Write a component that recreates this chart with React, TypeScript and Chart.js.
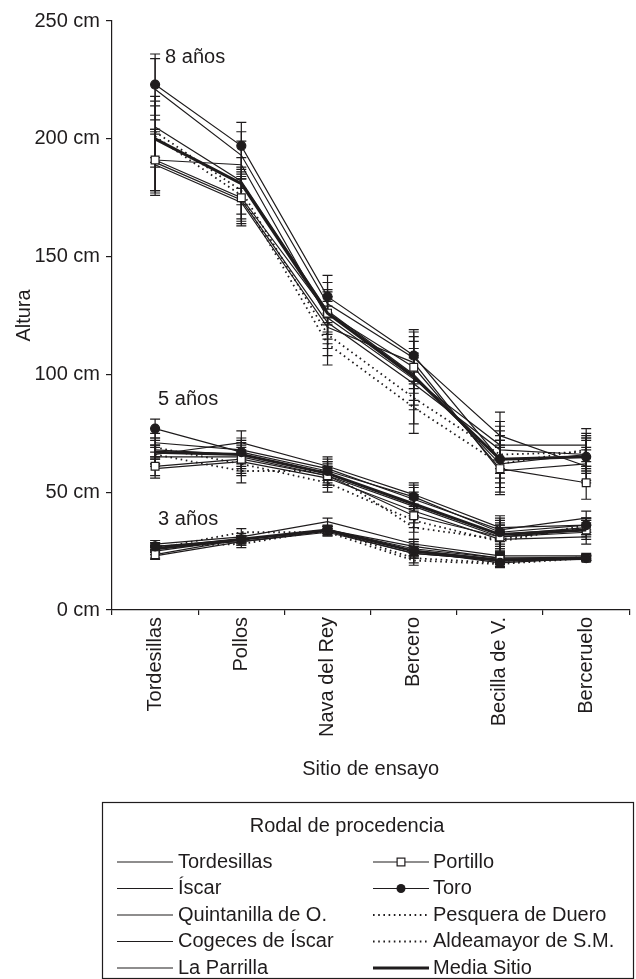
import React, { useEffect, useRef } from "react";
import { Chart, registerables } from "chart.js";
Chart.register(...registerables);

const sites = ["Tordesillas", "Pollos", "Nava del Rey", "Bercero", "Becilla de V.", "Berceruelo"];
const yTickValues = [0, 50, 100, 150, 200, 250];

// 8 años
const tordesillas8 = [221, 193, 130, 107, 74, 61];
const iscar8 = [205, 182, 127, 100, 62, 66];
const quintanilla8 = [191, 189, 124, 98, 70, 70];
const cogeces8 = [190, 174, 122, 96, 68, 66];
const parrilla8 = [189, 173, 120, 105, 59, 62];
const portillo8 = [191, 175, 126, 103, 60, 54];
const toro8 = [223, 197, 133, 108, 64, 65];
const pesquera8 = [203, 178, 117, 90, 66, 67];
const aldeamayor8 = [201, 176, 113, 86, 62, 68];
const media8 = [200, 181, 126, 99, 64, 65];

// 5 años
const tordesillas5 = [71, 68, 60, 47, 34, 39];
const iscar5 = [68, 66, 58, 45, 32, 35];
const quintanilla5 = [66, 71, 61, 49, 35, 36];
const cogeces5 = [65, 65, 57, 44, 31, 33];
const parrilla5 = [60, 63, 56, 42, 30, 31];
const portillo5 = [61, 64, 57, 40, 31, 34];
const toro5 = [77, 67, 59, 48, 33, 36];
const pesquera5 = [66, 59, 59, 35, 30, 35];
const aldeamayor5 = [69, 62, 54, 38, 29, 36];
const media5 = [67, 66, 58, 45, 32, 34];

// 3 años
const tordesillas3 = [28, 31, 37.5, 28, 23, 23];
const iscar3 = [26, 30, 34, 27, 22, 22.5];
const quintanilla3 = [27, 29, 33, 24, 21, 22];
const cogeces3 = [25, 30, 34, 26, 22, 22];
const parrilla3 = [23, 29, 33.5, 24, 21, 21.5];
const portillo3 = [23.5, 30, 34, 25, 21.5, 22];
const toro3 = [27, 30, 34, 25, 20, 22];
const pesquera3 = [26, 33, 33, 21, 19.5, 22];
const aldeamayor3 = [27, 28, 34, 22, 20, 22.5];
const media3 = [26, 30, 34, 25, 21, 22];

// error half-widths per site
const err8 = [13, 10, 9, 11, 10, 7];
const err5 = [4, 5, 4, 5, 5, 3];
const err3 = [1.5, 1.5, 1.5, 2, 1.5, 1];

const ageLabels = ["8 años", "5 años", "3 años"];
const ageLabelValues = [234.5, 89.5, 38.5];

const seriesNames = [
  "Media Sitio", "Toro", "Portillo", "Tordesillas", "Íscar", "Quintanilla de O.",
  "Cogeces de Íscar", "La Parrilla", "Pesquera de Duero", "Aldeamayor de S.M.",
];
const series8 = [media8, toro8, portillo8, tordesillas8, iscar8, quintanilla8, cogeces8, parrilla8, pesquera8, aldeamayor8];
const series5 = [media5, toro5, portillo5, tordesillas5, iscar5, quintanilla5, cogeces5, parrilla5, pesquera5, aldeamayor5];
const series3 = [media3, toro3, portillo3, tordesillas3, iscar3, quintanilla3, cogeces3, parrilla3, pesquera3, aldeamayor3];

const legendCol1 = ["Tordesillas", "Íscar", "Quintanilla de O.", "Cogeces de Íscar", "La Parrilla"];
const legendCol2 = ["Portillo", "Toro", "Pesquera de Duero", "Aldeamayor de S.M.", "Media Sitio"];

const INK = "#1f1c1d";
const FONT = "'Liberation Sans', Arial, Helvetica, sans-serif";

function styleFor(name: string) {
  const s: any = { borderWidth: 1.2, borderDash: [], pointStyle: "circle", pointRadius: 0, pointBackgroundColor: INK };
  if (name === "Media Sitio") s.borderWidth = 3;
  if (name === "Pesquera de Duero" || name === "Aldeamayor de S.M.") { s.borderDash = [1.6, 3.6]; s.borderWidth = 1.8; }
  if (name === "Toro") { s.pointStyle = "circle"; s.pointRadius = 4.5; s.pointBackgroundColor = INK; }
  if (name === "Portillo") { s.pointStyle = "rect"; s.pointRadius = 5.5; s.pointBackgroundColor = "#ffffff"; }
  return s;
}

const errorBarsPlugin = {
  id: "errorBars",
  beforeDatasetsDraw(chart: any) {
    const { ctx, scales } = chart;
    const y = scales.y;
    chart.data.datasets.forEach((ds: any, di: number) => {
      if (!ds.errors) return;
      const meta = chart.getDatasetMeta(di);
      ctx.save();
      ctx.strokeStyle = INK;
      ctx.lineWidth = 1.2;
      ctx.setLineDash([]);
      meta.data.forEach((pt: any, i: number) => {
        const v = ds.data[i];
        const e = ds.errors[i];
        const yt = y.getPixelForValue(v + e);
        const yb = y.getPixelForValue(v - e);
        ctx.beginPath();
        ctx.moveTo(pt.x, yt); ctx.lineTo(pt.x, yb);
        ctx.moveTo(pt.x - 5, yt); ctx.lineTo(pt.x + 5, yt);
        ctx.moveTo(pt.x - 5, yb); ctx.lineTo(pt.x + 5, yb);
        ctx.stroke();
      });
      ctx.restore();
    });
  },
};

const ageLabelPlugin = {
  id: "ageLabels",
  afterDatasetsDraw(chart: any) {
    const { ctx, scales } = chart;
    ctx.save();
    ctx.fillStyle = INK;
    ctx.font = `20px ${FONT}`;
    ctx.textAlign = "left";
    ctx.textBaseline = "middle";
    ageLabels.forEach((t, i) => {
      const x = scales.x.getPixelForValue(0) + (i === 0 ? 10 : 3);
      const yy = scales.y.getPixelForValue(ageLabelValues[i]);
      ctx.fillText(t, x, yy);
    });
    ctx.restore();
  },
};

const legendPlugin = {
  id: "customLegend",
  afterDraw(chart: any) {
    const { ctx } = chart;
    const box = { left: 102, top: 802, right: 633, bottom: 978 };
    ctx.save();
    ctx.strokeStyle = INK;
    ctx.lineWidth = 1.2;
    ctx.strokeRect(box.left + 0.5, box.top + 0.5, box.right - box.left, box.bottom - box.top);
    ctx.fillStyle = INK;
    ctx.font = `20px ${FONT}`;
    ctx.textBaseline = "middle";
    ctx.textAlign = "center";
    ctx.fillText("Rodal de procedencia", 347, 826);
    ctx.textAlign = "left";
    const rowY = (r: number) => 862 + r * 26.5;
    const drawItem = (name: string, x0: number, x1: number, tx: number, y: number) => {
      const s = styleFor(name);
      ctx.save();
      ctx.strokeStyle = INK;
      ctx.lineWidth = s.borderWidth;
      ctx.setLineDash(s.borderDash);
      ctx.beginPath();
      ctx.moveTo(x0, y); ctx.lineTo(x1, y);
      ctx.stroke();
      ctx.restore();
      if (s.pointRadius > 0) {
        const cx = (x0 + x1) / 2;
        ctx.save();
        ctx.strokeStyle = INK;
        ctx.lineWidth = 1.2;
        ctx.fillStyle = s.pointBackgroundColor;
        if (s.pointStyle === "rect") {
          const h = s.pointRadius * Math.SQRT1_2;
          ctx.fillRect(cx - h, y - h, 2 * h, 2 * h);
          ctx.strokeRect(cx - h, y - h, 2 * h, 2 * h);
        } else {
          ctx.beginPath();
          ctx.arc(cx, y, s.pointRadius, 0, Math.PI * 2);
          ctx.fill();
        }
        ctx.restore();
      }
      ctx.fillStyle = INK;
      ctx.fillText(name, tx, y);
    };
    legendCol1.forEach((n, r) => drawItem(n, 117, 173, 178, rowY(r)));
    legendCol2.forEach((n, r) => drawItem(n, 373, 429, 433, rowY(r)));
    ctx.restore();
  },
};

export default function App() {
  const ref = useRef<HTMLCanvasElement | null>(null);
  useEffect(() => {
    if (!ref.current) return;
    const datasets: any[] = [];
    const groups = [
      { data: series8, err: err8 },
      { data: series5, err: err5 },
      { data: series3, err: err3 },
    ];
    groups.forEach((g) => {
      seriesNames.forEach((name, si) => {
        const s = styleFor(name);
        datasets.push({
          label: name,
          data: g.data[si],
          errors: name === "Media Sitio" ? null : g.err,
          borderColor: INK,
          backgroundColor: INK,
          borderWidth: s.borderWidth,
          borderDash: s.borderDash,
          pointStyle: s.pointStyle,
          pointRadius: s.pointRadius,
          pointBackgroundColor: s.pointBackgroundColor,
          pointBorderColor: INK,
          pointBorderWidth: 1.2,
          fill: false,
          tension: 0,
        });
      });
    });
    const font = { family: FONT, size: 20 };
    const chart = new Chart(ref.current, {
      type: "line",
      data: { labels: sites, datasets },
      options: {
        responsive: false,
        animation: false,
        devicePixelRatio: 1,
        layout: { padding: { left: 0, right: 0, top: 21, bottom: 194 } },
        plugins: { legend: { display: false }, tooltip: { enabled: false } },
        scales: {
          x: {
            type: "category",
            offset: true,
            grid: { display: true, drawOnChartArea: false, drawTicks: true, tickLength: 5, color: INK, lineWidth: 1.2, offset: true },
            border: { display: true, color: INK, width: 1.2 },
            ticks: { minRotation: 90, maxRotation: 90, autoSkip: false, color: INK, font, padding: 2 },
            title: { display: true, text: "Sitio de ensayo", color: INK, font, padding: { top: 0, bottom: 4 } },
            afterFit: (s: any) => { s.height = 175; },
          },
          y: {
            min: 0,
            max: 250,
            afterBuildTicks: (s: any) => { s.ticks = yTickValues.map((v) => ({ value: v })); },
            grid: { display: true, drawOnChartArea: false, drawTicks: true, tickLength: 6, color: INK, lineWidth: 1.2 },
            border: { display: true, color: INK, width: 1.2 },
            ticks: { color: INK, font, padding: 6, callback: (v: any) => `${v} cm` },
            title: { display: true, text: "Altura", color: INK, font, padding: { top: 12, bottom: 0 } },
            afterFit: (s: any) => { s.width = 112; },
          },
        },
      } as any,
      plugins: [errorBarsPlugin, ageLabelPlugin, legendPlugin],
    });
    return () => chart.destroy();
  }, []);
  return (
    <div style={{ position: "absolute", left: 0, top: 0, width: 636, height: 979, background: "#ffffff", overflow: "hidden" }}>
      <canvas ref={ref} width={636} height={979} style={{ display: "block", width: 636, height: 979 }} />
    </div>
  );
}
